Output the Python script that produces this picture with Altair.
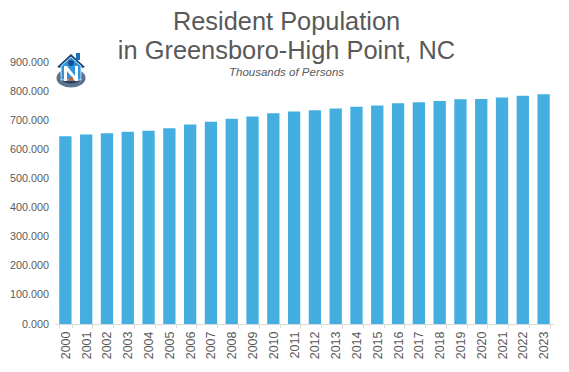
import base64
import altair as alt
import pandas as pd

years = [str(y) for y in range(2000, 2024)]
population = [645, 651, 655, 660, 664, 672, 685, 695, 705, 713, 724, 730,
              734, 740, 746, 751, 758, 762, 766, 772, 773, 778, 784, 789]
y_ticks = [0, 100, 200, 300, 400, 500, 600, 700, 800, 900]
title_lines = ["Resident Population", "in Greensboro-High Point, NC"]
subtitle_line = "Thousands of Persons"

FONT = "Liberation Sans"
GREY = "#595959"

logo_svg = """<svg xmlns='http://www.w3.org/2000/svg' viewBox='0 0 30 36'>
<ellipse cx='15' cy='26' rx='14.5' ry='9.5' fill='#5b7390'/>
<ellipse cx='15' cy='25' rx='11' ry='6.5' fill='#2b3f5c'/>
<path d='M1 15 L15 2 L29 15 L26 16 L15 6 L4 16 Z' fill='#14477e'/>
<rect x='20' y='1' width='4' height='7' fill='#1a6fb8'/>
<path d='M5 14 L15 5 L25 14 V28 H5 Z' fill='#2f95dc' stroke='#ffffff' stroke-width='0.8'/>
<circle cx='15' cy='11' r='3' fill='#16508f'/>
<path d='M8 14 H11 L19 24 V14 H22 V29 H19 L11 19 V29 H8 Z' fill='#ffffff'/>
<path d='M12 28 L16 24 L18 29 Z' fill='#c8641e'/>
</svg>"""
logo_uri = "data:image/svg+xml;base64," + base64.b64encode(logo_svg.encode()).decode()

df = pd.DataFrame({"year": years, "population": population})

bars = alt.Chart(df).mark_bar(color="#45AEE0", width=12.3).encode(
    x=alt.X("year:N", sort=years, title=None, scale=alt.Scale(paddingInner=0.4, paddingOuter=0.2),
            axis=alt.Axis(labelAngle=-90, labelFontSize=12.5, labelColor=GREY, labelFont=FONT,
                          labelPadding=3, labelBaseline="middle", labelAlign="right",
                          domainColor="#D9D9D9", tickColor="#D9D9D9", tickSize=4,
                          tickBand="extent", grid=False)),
    y=alt.Y("population:Q", title=None,
            scale=alt.Scale(domain=[0, 900], nice=False),
            axis=alt.Axis(values=y_ticks, format=".3f", labelFontSize=10.8, labelColor=GREY, labelFont=FONT,
                          labelPadding=6.5, domain=False, ticks=False, grid=False)),
)

logo = alt.Chart(pd.DataFrame({"url": [logo_uri]})).mark_image(width=30, height=36).encode(
    url="url:N", x=alt.value(16), y=alt.value(8)
)

chart = alt.layer(bars, logo).properties(
    width=499,
    height=262,
    autosize=alt.AutoSizeParams(type="none"),
    padding={"left": 47, "top": 54, "right": 0, "bottom": 40},
    title=alt.TitleParams(
        text=title_lines, subtitle=subtitle_line, anchor="middle", frame="group", dx=-18, offset=-26,
        font=FONT, fontSize=25.4, fontWeight="normal", color=GREY, lineHeight=29,
        subtitleFont=FONT, subtitleFontSize=11.5, subtitleFontStyle="italic", subtitleColor=GREY, subtitlePadding=2,
    ),
).configure_view(stroke=None)

chart.save("out.html", embed_options={"renderer": "svg", "actions": False})
